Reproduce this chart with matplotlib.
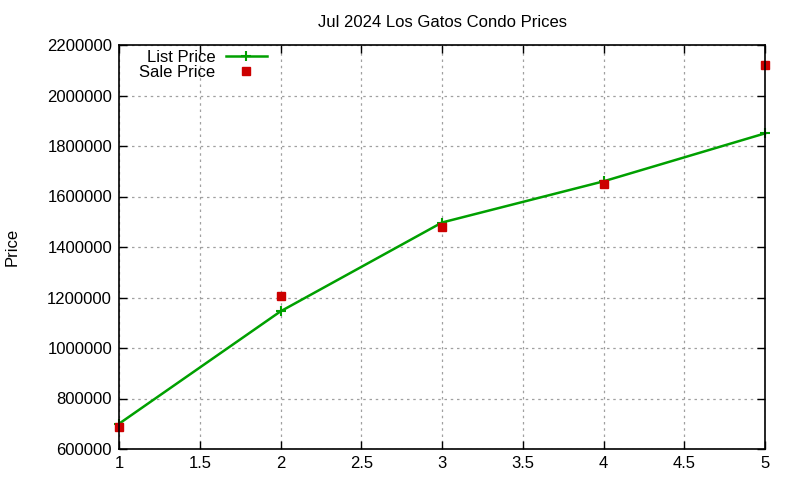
import matplotlib
matplotlib.use("Agg")
import matplotlib.pyplot as plt

plt.rcParams['font.family'] = ['Liberation Sans', 'DejaVu Sans']

x = [1, 2, 3, 4, 5]
list_price = [700000, 1145000, 1497000, 1660000, 1850000]
sale_price = [688000, 1205000, 1478000, 1650000, 2122000]

fig = plt.figure(figsize=(8, 4.8), dpi=100)
ax = fig.add_axes([119/800, 1-449/480, (765-119)/800, (449-45)/480])

ax.plot(x, list_price, color='#00a000', lw=1.8, marker='+', ms=7, mew=1.5, label='List Price', clip_on=False)
ax.plot(x, sale_price, color='#cc0000', ls='none', marker='s', ms=6, label='Sale Price', clip_on=False)

ax.set_xlim(1, 5)
ax.set_ylim(600000, 2200000)
ax.set_xticks([1, 1.5, 2, 2.5, 3, 3.5, 4, 4.5, 5])
ax.set_xticklabels(['1', '1.5', '2', '2.5', '3', '3.5', '4', '4.5', '5'])
ax.set_yticks(range(600000, 2200001, 200000))
ax.set_yticklabels([str(v) for v in range(600000, 2200001, 200000)])
ax.tick_params(direction='in', top=True, right=True, length=6, labelsize=12, width=1, pad=5)
ax.grid(True, color='#a0a0a0', ls=(0, (2, 3)), lw=0.9)
for s in ax.spines.values():
    s.set_linewidth(1.2)

ax.set_title('Jul 2024 Los Gatos Condo Prices', fontsize=12, pad=13)
ax.set_ylabel('Price', fontsize=12, labelpad=20)

leg = ax.legend(loc='upper right', bbox_to_anchor=(0.245, 1.012), markerfirst=False, frameon=False,
                fontsize=12, handlelength=2.5, borderaxespad=0.2, labelspacing=0.0, handletextpad=0.6)

fig.savefig('out.png', dpi=100)
